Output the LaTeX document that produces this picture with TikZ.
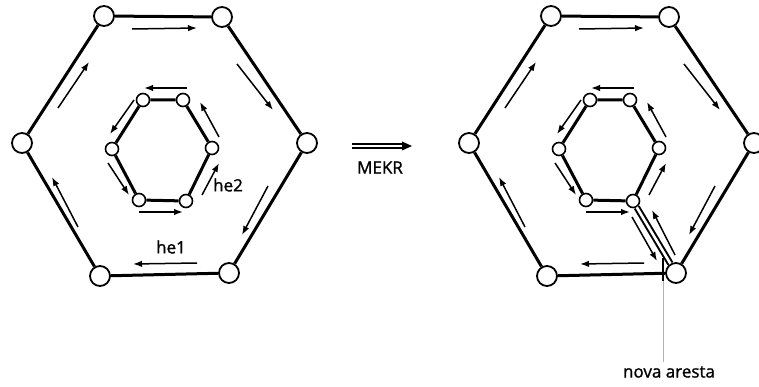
\documentclass[tikz,border=0pt]{standalone}
\usepackage{fontspec}
\setmainfont{Open Sans}
\newfontfamily\lblfont{Open Sans}[FakeBold=1.2]
\usetikzlibrary{arrows.meta}
\tikzset{
  ov/.style={circle,draw=black,fill=white,line width=1.8pt,minimum size=20pt,inner sep=0pt},
  iv/.style={circle,draw=black,fill=white,line width=1.6pt,minimum size=13pt,inner sep=0pt},
  edge/.style={line width=3pt},
  he/.style={line width=1.5pt,-{Latex[length=9pt,width=6.5pt]}},
  lbl/.style={font=\lblfont\fontsize{17pt}{20pt}\selectfont,inner sep=0pt}
}
\newcommand\hexfig[2]{%
\begin{scope}[xshift=#2]
\node[ov] (#1o1) at (104,16) {};
\node[ov] (#1o2) at (222,17) {};
\node[ov] (#1o3) at (307,143) {};
\node[ov] (#1o4) at (229,273) {};
\node[ov] (#1o5) at (100,276) {};
\node[ov] (#1o6) at (22,143) {};
\node[iv] (#1i1) at (143,100) {};
\node[iv] (#1i2) at (183,100) {};
\node[iv] (#1i3) at (212,148) {};
\node[iv] (#1i4) at (186,201) {};
\node[iv] (#1i5) at (139,200) {};
\node[iv] (#1i6) at (112,149) {};
\draw[edge] (#1o1) -- (#1o2) -- (#1o3) -- (#1o4) -- (#1o5) -- (#1o6) -- (#1o1);
\draw[edge] (#1i1) -- (#1i2) -- (#1i3) -- (#1i4) -- (#1i5) -- (#1i6) -- (#1i1);
% outer half-edges (clockwise)
\draw[he] (132,29) -- (197,28);
\draw[he] (237,64) -- (273,110);
\draw[he] (268,186) -- (242,235);
\draw[he] (197,263) -- (133,264);
\draw[he] (78,227) -- (52,177);
\draw[he] (58,108) -- (89,62);
% inner half-edges (counter-clockwise)
\draw[he] (187,88) -- (144,88);
\draw[he] (134,100) -- (110,134);
\draw[he] (108,163) -- (129,195);
\draw[he] (139,212) -- (183,212);
\draw[he] (202,195) -- (219,163);
\draw[he] (219,137) -- (200,102);
\end{scope}}
\begin{document}
\begin{tikzpicture}[x=1pt,y=-1pt]
\useasboundingbox (0,0) rectangle (759,387);
\hexfig{a}{0pt}
\hexfig{b}{447pt}
% labels left
\node[lbl] (he1) at (171,247) {he1};
\node[lbl] (he2) at (228,185) {he2};
% MEKR arrow
\coordinate (m1) at (352,144);
\coordinate (m2) at (352,148);
\coordinate (mt) at (412,146);
\draw[line width=1.4pt] (m1) -- ++(52,0);
\draw[line width=1.4pt] (m2) -- ++(52,0);
\fill (mt) -- ++(-10,-4.5) -- ++(0,9) -- cycle;
\node[lbl] (mekr) at (380,167.5) {MEKR};
% new edge
\draw[line width=2pt,double=white,double distance=2.6pt] (bi4) -- (bo4);
\draw[he] (632,217) -- (657,261);
\draw[he] (675,255) -- (652,210);
% leader
\coordinate (lead) at (663,258);
\node[lbl] (nova) at (669,372) {nova aresta};
\draw[line width=1.3pt] (lead) -- (663,281);
\draw[gray!60,line width=0.9pt] (663,281) -- (663,362);
\end{tikzpicture}
\end{document}
